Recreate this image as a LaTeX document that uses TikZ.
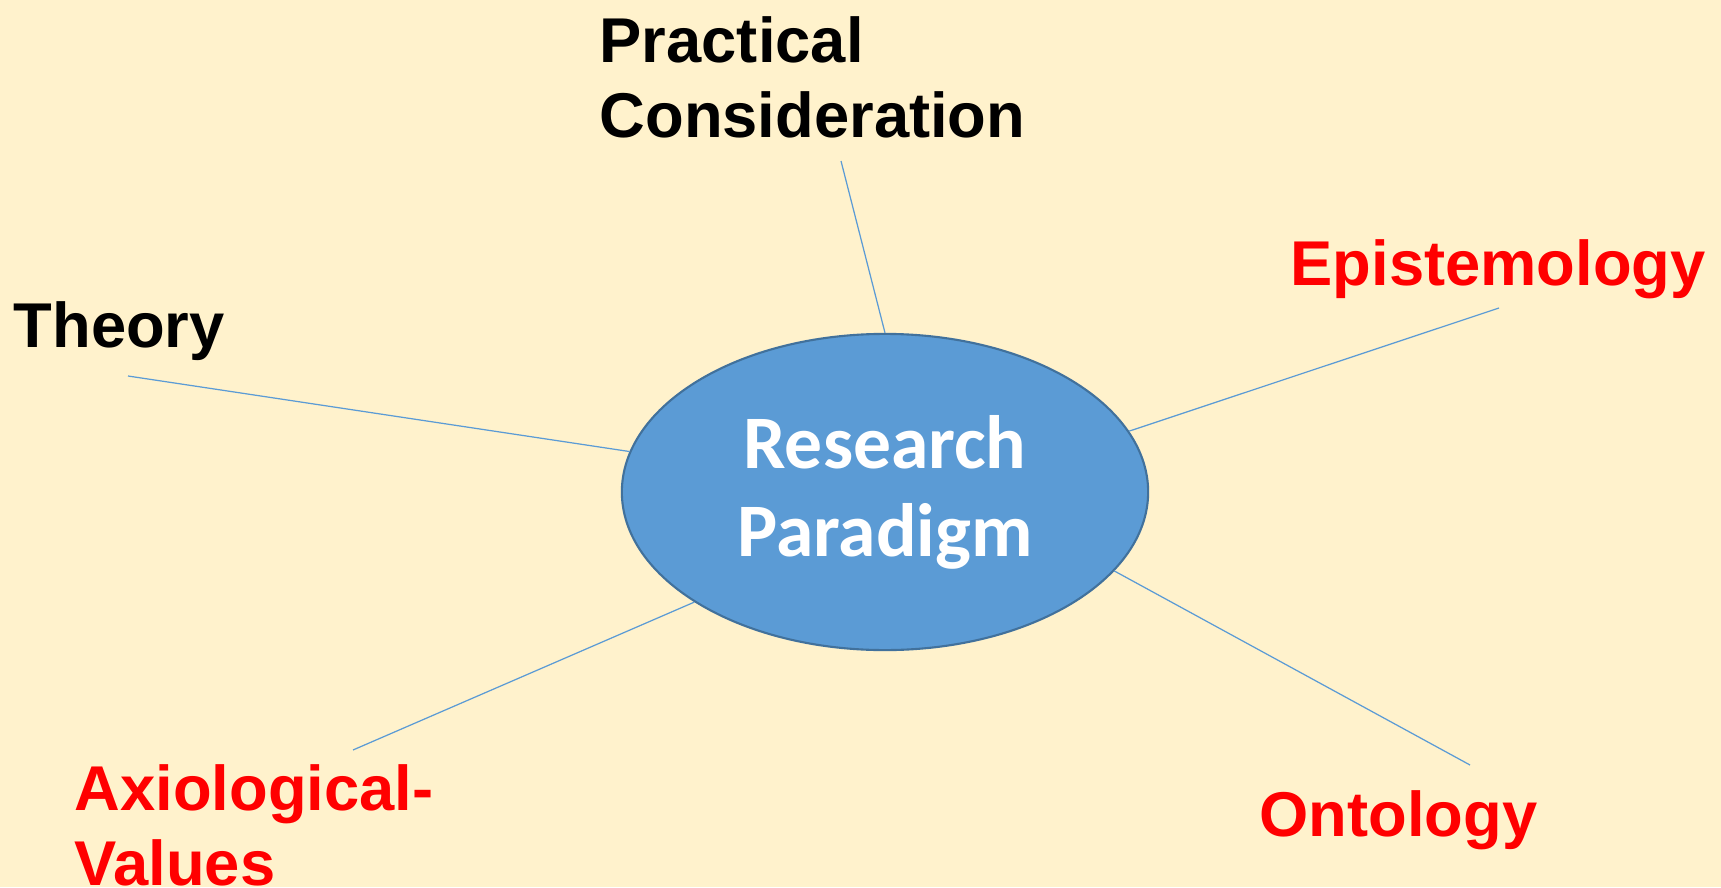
\documentclass[tikz,border=0pt]{standalone}
\usepackage{xcolor}
\usepackage{fontspec}
\setmainfont{Liberation Sans}
\newfontfamily\calib{Carlito}
\usepackage{tikz}
\usetikzlibrary{shapes.geometric}

\definecolor{bgcream}{HTML}{FFF2CC}
\definecolor{spokeblue}{HTML}{5B9BD5}
\definecolor{rimblue}{HTML}{41719C}
\definecolor{termred}{HTML}{FF0000}

\begin{document}
\begin{tikzpicture}[x=0.01cm,y=0.01cm,
        term/.style={anchor=north west,inner sep=0pt,align=left,
                font=\fontsize{18}{21.2}\selectfont\bfseries},
        spoke/.style={draw=spokeblue,line width=0.35pt}]
                \fill[bgcream] (0,0) rectangle (1721,887);
                \useasboundingbox (0,0) rectangle (1721,887);

                % centre
                \node[ellipse,fill=spokeblue,draw=rimblue,line width=0.6pt,
                        minimum width=5.26cm,minimum height=3.16cm,inner sep=0pt,
                        text=white,align=center,
                        font=\calib\fontsize{21.5}{25}\selectfont\bfseries]
                        (rp) at (885,395) {Research\\Paradigm};

                % labels
                \node[term] (practical) at (599,871) {Practical\\Consideration};
                \node[term] (theory) at (13,586) {Theory};
                \node[term,text=termred] (episteme) at (1290,648) {Epistemology};
                \node[term,text=termred] (onto) at (1259,97) {Ontology};
                \node[term,text=termred] (axio) at (74,123) {Axiological-\\Values};

                % spoke ends near the labels
                \coordinate (practicalEnd) at (841,726);
                \coordinate (theoryEnd) at (128,511);
                \coordinate (epistemeEnd) at (1499,579);
                \coordinate (ontoEnd) at (1470,122);
                \coordinate (axioEnd) at (353,137);

                \draw[spoke] (practicalEnd) -- (rp.90);
                \draw[spoke] (theoryEnd) -- (rp.171);
                \draw[spoke] (epistemeEnd) -- (rp.14);
                \draw[spoke] (ontoEnd) -- (rp.341);
                \draw[spoke] (axioEnd) -- (rp.210);
\end{tikzpicture}
\end{document}
